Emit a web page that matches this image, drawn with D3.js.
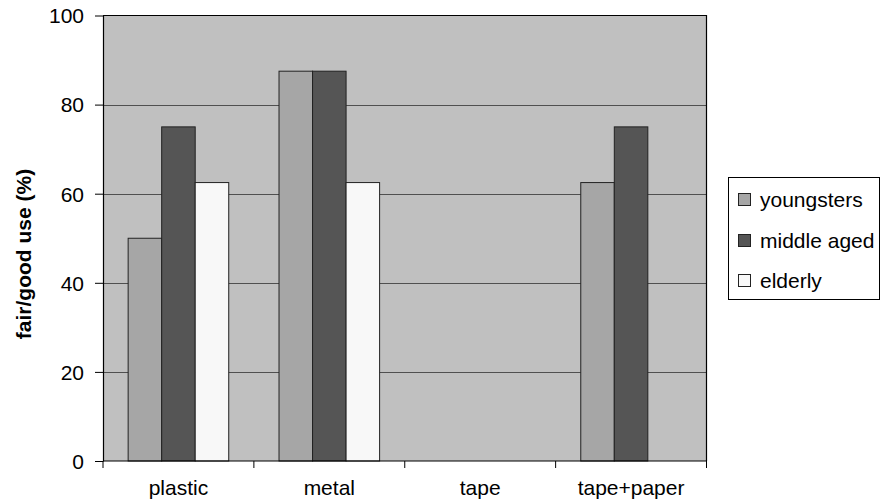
<!DOCTYPE html>
<html><head><meta charset="utf-8">
<script src="https://cdn.jsdelivr.net/npm/d3@7"></script>
<style>
html,body{margin:0;padding:0;background:#fff;}
svg{display:block;font-family:"Liberation Sans",Arial,sans-serif;}
</style></head>
<body><svg id="c" width="881" height="503"></svg>
<script>
const categories = ["plastic", "metal", "tape", "tape+paper"];
const seriesNames = ["youngsters", "middle aged", "elderly"];
const youngsters = [50, 87.5, null, 62.5];
const middleAged = [75, 87.5, null, 75];
const elderly = [62.5, 62.5, null, null];
const yTicks = [0, 20, 40, 60, 80, 100];
const colors = ["#a6a6a6", "#555555", "#f8f8f8"];
const seriesValues = [youngsters, middleAged, elderly];

const svg = d3.select("#c");
const L = 103, R = 706.5, T = 15.5, B = 461;
const FS = 21;

const x = d3.scaleBand().domain(categories).range([L, R]).padding(0);
const xs = d3.scaleBand().domain(seriesNames).range([0, x.bandwidth()]).paddingInner(0).paddingOuter(0.75);
const y = d3.scaleLinear().domain([0, 100]).range([B, T]);

svg.append("rect").attr("x", L).attr("y", T).attr("width", R - L).attr("height", B - T).attr("fill", "#c0c0c0");

svg.append("g").selectAll("line").data(yTicks.filter(d => d > 0 && d < 100)).join("line")
  .attr("x1", L).attr("x2", R).attr("y1", d => Math.round(y(d)) + 0.5).attr("y2", d => Math.round(y(d)) + 0.5)
  .attr("stroke", "#505050").attr("stroke-width", 1.2);

svg.append("path").attr("d", `M${L},${T}H${R}V${B}`).attr("fill", "none").attr("stroke", "#000").attr("stroke-width", 1.2);

const data = [];
categories.forEach((c, i) => seriesNames.forEach((s, j) => {
  const v = seriesValues[j][i];
  if (v != null) data.push({c, s, v, j});
}));
svg.append("g").selectAll("rect").data(data).join("rect")
  .attr("x", d => x(d.c) + xs(d.s))
  .attr("y", d => y(d.v))
  .attr("width", xs.bandwidth())
  .attr("height", d => B - y(d.v))
  .attr("fill", d => colors[d.j])
  .attr("stroke", "#222").attr("stroke-width", 1);

const yAxis = d3.axisLeft(y).tickValues(yTicks).tickSize(8).tickSizeOuter(0).tickPadding(11);
const gy = svg.append("g").attr("transform", `translate(${L},0)`).call(yAxis);
gy.attr("font-family", null).attr("font-size", null);
gy.select(".domain").attr("stroke", "#000").attr("stroke-width", 1.2);
gy.selectAll(".tick line").attr("stroke", "#000");
gy.selectAll(".tick text").attr("font-size", FS).attr("fill", "#000").attr("dy", "0.35em");

const gx = svg.append("g").attr("transform", `translate(0,${B})`);
gx.append("line").attr("x1", L).attr("x2", R).attr("y1", 0).attr("y2", 0).attr("stroke", "#000").attr("stroke-width", 1.2);
const bounds = categories.map(c => x(c)).concat([R]);
gx.selectAll(".xt").data(bounds).join("line").attr("class", "xt")
  .attr("x1", d => d).attr("x2", d => d).attr("y1", 0).attr("y2", 7).attr("stroke", "#000");
gx.selectAll(".xl").data(categories).join("text").attr("class", "xl")
  .attr("x", d => x(d) + x.bandwidth() / 2).attr("y", 34)
  .attr("text-anchor", "middle").attr("font-size", FS).attr("fill", "#000").text(d => d);

svg.append("text").attr("transform", "translate(31,254) rotate(-90)")
  .attr("text-anchor", "middle").attr("font-size", FS).attr("font-weight", "bold").attr("fill", "#000")
  .text("fair/good use (%)");

const lg = svg.append("g");
lg.append("rect").attr("x", 728.5).attr("y", 177.5).attr("width", 151).attr("height", 122)
  .attr("fill", "#fff").attr("stroke", "#000").attr("stroke-width", 1);
const ly = [200, 241, 281];
seriesNames.forEach((s, j) => {
  lg.append("rect").attr("x", 738.5).attr("y", ly[j] - 6.5).attr("width", 12).attr("height", 12)
    .attr("fill", colors[j]).attr("stroke", "#222").attr("stroke-width", 1);
  lg.append("text").attr("x", 760).attr("y", ly[j]).attr("dy", "0.35em")
    .attr("font-size", FS).attr("fill", "#000").text(s);
});
</script></body></html>
